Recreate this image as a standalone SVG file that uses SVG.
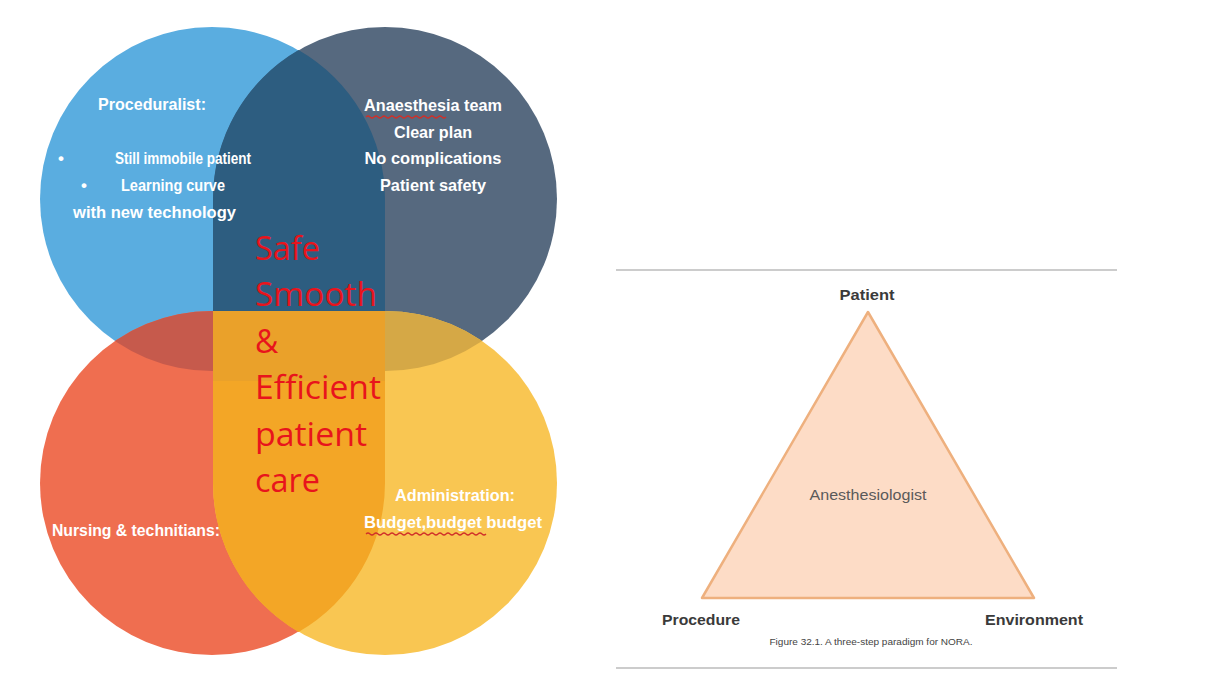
<svg xmlns="http://www.w3.org/2000/svg" width="1212" height="688" viewBox="0 0 1212 688">
<style>
.w{font-family:"Liberation Sans",Arial,sans-serif;font-weight:bold;fill:#ffffff;font-size:17px}
.big{font-family:"Open Sans","Liberation Sans",sans-serif;fill:#e8141c;font-size:32px}
.lab{font-family:"Liberation Sans",Arial,sans-serif;font-weight:bold;fill:#3a3a3a;font-size:14px}
.sq{fill:none;stroke:#d0302a;stroke-width:1.2}
</style>
<defs>
<clipPath id="cB"><circle cx="212" cy="199" r="172"/></clipPath>
<clipPath id="cN"><circle cx="385" cy="199" r="172"/></clipPath>
<clipPath id="cTop"><rect x="0" y="0" width="600" height="311"/></clipPath>
<clipPath id="cMid"><rect x="0" y="311" width="600" height="70"/></clipPath>
<clipPath id="cBot"><rect x="0" y="381" width="600" height="300"/></clipPath>
<path id="band" d="M213 199 A172 172 0 0 1 298.5 50 A172 172 0 0 1 385 199 L385 483 A172 172 0 0 1 298.5 632 A172 172 0 0 1 213 483 Z"/>
</defs>
<rect width="1212" height="688" fill="#ffffff"/>
<g id="venn">
<circle cx="212" cy="199" r="172" fill="#5aade0"/>
<circle cx="385" cy="199" r="172" fill="#56697f"/>
<circle cx="212" cy="483" r="172" fill="#ef6e50"/>
<circle cx="385" cy="483" r="172" fill="#f9c652"/>
<circle cx="212" cy="483" r="172" fill="#c65a4c" clip-path="url(#cB)"/>
<circle cx="385" cy="483" r="172" fill="#d5a846" clip-path="url(#cN)"/>
<use href="#band" fill="#2d5d80" clip-path="url(#cTop)"/>
<use href="#band" fill="#eaa12a" clip-path="url(#cMid)"/>
<use href="#band" fill="#f3a626" clip-path="url(#cBot)"/>
</g>
<g id="proceduralist">
<text class="w" x="152" y="110" text-anchor="middle" textLength="108" lengthAdjust="spacingAndGlyphs">Proceduralist:</text>
<text class="w" x="58" y="164">•</text>
<text class="w" x="115" y="164" textLength="136" lengthAdjust="spacingAndGlyphs">Still immobile patient</text>
<text class="w" x="81" y="191">•</text>
<text class="w" x="121" y="191" textLength="104" lengthAdjust="spacingAndGlyphs">Learning curve</text>
<text class="w" x="73" y="218" textLength="163" lengthAdjust="spacingAndGlyphs">with new technology</text>
</g>
<g id="anaesthesia">
<text class="w" x="433" y="111" text-anchor="middle" textLength="138" lengthAdjust="spacingAndGlyphs">Anaesthesia team</text>
<path class="sq" d="M366 117 q2 -2 4 0 t4 0 t4 0 t4 0 t4 0 t4 0 t4 0 t4 0 t4 0 t4 0 t4 0 t4 0 t4 0 t4 0 t4 0 t4 0 t4 0 t4 0 t4 0 t4 0"/>
<text class="w" x="433" y="138" text-anchor="middle" textLength="78" lengthAdjust="spacingAndGlyphs">Clear plan</text>
<text class="w" x="433" y="164" text-anchor="middle" textLength="137" lengthAdjust="spacingAndGlyphs">No complications</text>
<text class="w" x="433" y="191" text-anchor="middle" textLength="106" lengthAdjust="spacingAndGlyphs">Patient safety</text>
</g>
<g id="nursing">
<text class="w" x="52" y="536" textLength="168" lengthAdjust="spacingAndGlyphs">Nursing &amp; technitians:</text>
</g>
<g id="administration">
<text class="w" x="455" y="501" text-anchor="middle" textLength="120" lengthAdjust="spacingAndGlyphs">Administration:</text>
<text class="w" x="364" y="528" textLength="178" lengthAdjust="spacingAndGlyphs">Budget,budget budget</text>
<path class="sq" d="M366 534 q2 -2 4 0 t4 0 t4 0 t4 0 t4 0 t4 0 t4 0 t4 0 t4 0 t4 0 t4 0 t4 0 t4 0 t4 0 t4 0 t4 0 t4 0 t4 0 t4 0 t4 0 t4 0 t4 0 t4 0 t4 0 t4 0 t4 0 t4 0 t4 0 t4 0 t4 0"/>
</g>
<g id="center-text">
<text class="big" x="255" y="260" textLength="65" lengthAdjust="spacingAndGlyphs">Safe</text>
<text class="big" x="255" y="306" textLength="122" lengthAdjust="spacingAndGlyphs">Smooth</text>
<text class="big" x="255" y="353">&amp;</text>
<text class="big" x="255" y="399" textLength="126" lengthAdjust="spacingAndGlyphs">Efficient</text>
<text class="big" x="255" y="446" textLength="112" lengthAdjust="spacingAndGlyphs">patient</text>
<text class="big" x="255" y="492" textLength="65" lengthAdjust="spacingAndGlyphs">care</text>
</g>
<g id="figure">
<line x1="616" y1="270" x2="1117" y2="270" stroke="#cccccc" stroke-width="2"/>
<line x1="616" y1="668" x2="1117" y2="668" stroke="#cccccc" stroke-width="2"/>
<polygon points="868,312 1034,598 702,598" fill="#fddcc6" stroke="#eeb07e" stroke-width="2.5" stroke-linejoin="round"/>
<text class="lab" x="867" y="300" text-anchor="middle" textLength="55" lengthAdjust="spacingAndGlyphs">Patient</text>
<text x="868" y="500" text-anchor="middle" font-family="Liberation Sans,Arial,sans-serif" font-size="14" fill="#5a5a5a" textLength="117" lengthAdjust="spacingAndGlyphs">Anesthesiologist</text>
<text class="lab" x="662" y="625" textLength="78" lengthAdjust="spacingAndGlyphs">Procedure</text>
<text class="lab" x="985" y="625" textLength="98" lengthAdjust="spacingAndGlyphs">Environment</text>
<text x="871" y="645" text-anchor="middle" font-family="Liberation Sans,Arial,sans-serif" font-size="9.5" fill="#444" textLength="203" lengthAdjust="spacingAndGlyphs">Figure 32.1. A three-step paradigm for NORA.</text>
</g>
</svg>
